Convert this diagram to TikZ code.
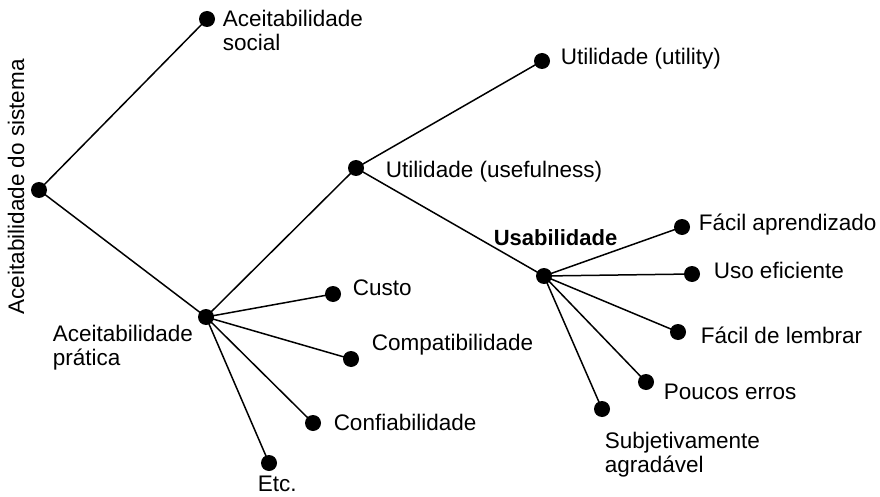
\documentclass[tikz,border=0pt]{standalone}
\usepackage{fontspec}
\setmainfont{Liberation Sans}
\usepackage{tikz}

\tikzset{
    lbl/.style={anchor=base west, inner sep=0pt, align=left,
        font=\fontsize{22.5}{24}\selectfont},
}

\begin{document}
\begin{tikzpicture}[x=1pt,y=-1pt,line width=1.5pt]

\useasboundingbox (0,0) rectangle (880,497);

\coordinate (sis) at (39,190);
\coordinate (soc) at (207,19);
\coordinate (pra) at (206,317);
\coordinate (use) at (356,168);
\coordinate (uti) at (542,61);
\coordinate (usa) at (544,276);
\coordinate (cus) at (333,294);
\coordinate (com) at (351,359);
\coordinate (con) at (313,423);
\coordinate (etc) at (269,463);
\coordinate (apr) at (682,227);
\coordinate (efi) at (692,274);
\coordinate (lem) at (678,332);
\coordinate (err) at (646,382);
\coordinate (sub) at (602,409);

\draw (soc) -- (sis) -- (pra) -- (use) -- (uti);
\draw (use) -- (usa);

\foreach \i in {cus,com,con,etc}
    \draw (pra) -- (\i);

\foreach \i in {apr,efi,lem,err,sub}
    \draw (usa) -- (\i);

\foreach \i in {sis,soc,pra,use,uti,usa,cus,com,con,etc,apr,efi,lem,err,sub}
    \fill (\i) circle (8pt);

\node [lbl, rotate=90] (lsis) at (24,188) {\makebox[0pt][c]{Aceitabilidade do sistema}};
\node [lbl] (lsoc) at (222,51) {Aceitabilidade\\social};
\node [lbl] (lpra) at (52,365) {Aceitabilidade\\prática};
\node [lbl] (luse) at (385,178) {Utilidade (usefulness)};
\node [lbl] (luti) at (560,65) {Utilidade (utility)};
\node [lbl, font=\fontsize{22}{24}\selectfont\bfseries] (lusa) at (493,245) {Usabilidade};
\node [lbl] (lcus) at (352,295) {Custo};
\node [lbl] (lcom) at (371,350) {Compatibilidade};
\node [lbl] (lcon) at (333,430) {Confiabilidade};
\node [lbl] (letc) at (257,491) {Etc.};
\node [lbl] (lapr) at (698,230) {Fácil aprendizado};
\node [lbl] (lefi) at (713,278) {Uso eficiente};
\node [lbl] (llem) at (700,343) {Fácil de lembrar};
\node [lbl] (lerr) at (663,399) {Poucos erros};
\node [lbl] (lsub) at (604,472) {Subjetivamente\\agradável};

\end{tikzpicture}
\end{document}
